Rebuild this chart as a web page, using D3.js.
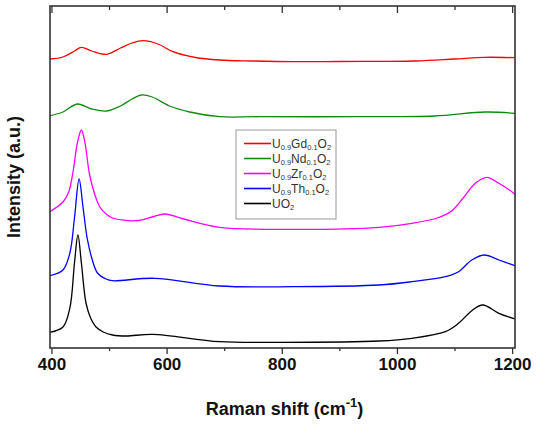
<!DOCTYPE html>
<html><head><meta charset="utf-8">
<script src="https://cdn.jsdelivr.net/npm/d3@7"></script>
<style>html,body{margin:0;padding:0;background:#fff;}svg{display:block;font-family:"Liberation Sans",Arial,sans-serif;}</style>
</head><body>
<svg id="chart" width="544" height="428"></svg>
<script>
// Raman shift (cm-1), intensity (a.u., stacked with offsets)
const gdShift = [397,420,440,452,470,496,520,540,559,585,611,650,692,750,820,900,1032,1100,1153,1205];
const gdInt   = [289,291,297,300.7,297,293.7,300,305,307.3,304,296.3,290.5,288,287,286.3,286.5,287,289,290.7,290.3];

const ndShift = [397,420,445,470,496,520,540,556,575,605,640,692,760,930,1065,1153,1205];
const ndInt   = [232.3,236,244,239,237,242,249,253,251,242,236,231.3,231.3,231.3,232,236,234.7];

const zrShift = [397,420,430,438,445,452,458,466,475,484,495,506,547,575,597,630,692,820,969,1026,1070,1095,1115,1136,1156,1177,1205];
const zrInt   = [136.3,146,156,178,205,218,206,174,154,141,134,130,127.3,131,134,129,120.7,118.7,120.7,124.7,130,137,150,164.7,170.7,164.7,153.7];

const thShift = [397,420,432,440,448,455,462,470,480,495,506,579,692,820,969,1026,1084,1107,1130,1152,1177,1205];
const thInt   = [72.3,78,95,130,169,140,110,90,75,69,67.3,69.7,62,61.3,63,66.3,71.3,76.3,88,93,88,82.3];

const uoShift = [397,420,432,440,446,452,460,468,477,490,506,530,576,692,800,969,1026,1084,1107,1130,1149,1177,1205];
const uoInt   = [15.7,21,40,85,113,85,45,30,21.3,16,13,12,13.7,6.3,5.7,7,9.7,16.3,24.7,37.3,43,34.7,29];

const seriesNames = [["U","0.9","Gd","0.1","O","2"],["U","0.9","Nd","0.1","O","2"],["U","0.9","Zr","0.1","O","2"],["U","0.9","Th","0.1","O","2"],["UO","2"]];
const seriesColors = ["#ff0000","#108a10","#ff00ff","#0000ff","#000000"];
const xTicks = [400,600,800,1000,1200];
const xMinorTicks = [500,700,900,1100];

const svg = d3.select("#chart");
const L=50, R=515, T=6, B=348;
const x = d3.scaleLinear().domain([397.5,1205]).range([L,R]);
const y = d3.scaleLinear().domain([0,342]).range([B,T]);

const series = [
  {s:gdShift,v:gdInt},{s:ndShift,v:ndInt},{s:zrShift,v:zrInt},{s:thShift,v:thInt},{s:uoShift,v:uoInt}
];
const line = d3.line().x(d=>x(d[0])).y(d=>y(d[1])).curve(d3.curveCatmullRom.alpha(0.5));
const g = svg.append("g");
g.append("defs").append("clipPath").attr("id","clip").append("rect").attr("x",L).attr("y",T).attr("width",R-L).attr("height",B-T);
series.forEach((d,i)=>{
  g.append("path").attr("clip-path","url(#clip)")
   .datum(d.s.map((s,j)=>[s,d.v[j]]))
   .attr("d",line).attr("fill","none").attr("stroke",seriesColors[i]).attr("stroke-width",1.3);
});

// Bottom axis
const xAxis = d3.axisBottom(x).tickValues(xTicks).tickSize(6).tickPadding(4).tickFormat(d3.format("d"));
const ax = svg.append("g").attr("transform",`translate(0,${B})`).call(xAxis);
ax.select(".domain").remove();
ax.selectAll(".tick line").attr("stroke","#333").attr("stroke-width",1.3);
ax.selectAll(".tick text").attr("fill","#111").attr("font-size",17).attr("font-weight","bold").attr("font-family","'Liberation Sans',Arial,sans-serif");
const axm = svg.append("g").attr("transform",`translate(0,${B})`).call(d3.axisBottom(x).tickValues(xMinorTicks).tickSize(3).tickFormat(""));
axm.select(".domain").remove();
axm.selectAll(".tick line").attr("stroke","#333").attr("stroke-width",1.3);
// Top axis (inward)
const at = svg.append("g").attr("transform",`translate(0,${T})`).call(d3.axisBottom(x).tickValues(xTicks).tickSize(7).tickFormat(""));
at.select(".domain").remove();
at.selectAll(".tick line").attr("stroke","#333").attr("stroke-width",1.3);
const atm = svg.append("g").attr("transform",`translate(0,${T})`).call(d3.axisBottom(x).tickValues(xMinorTicks).tickSize(4).tickFormat(""));
atm.select(".domain").remove();
atm.selectAll(".tick line").attr("stroke","#333").attr("stroke-width",1.3);

// Frame
svg.append("rect").attr("x",L).attr("y",T).attr("width",R-L).attr("height",B-T)
  .attr("fill","none").attr("stroke","#333").attr("stroke-width",1.6);

// Axis titles
const xt = svg.append("text").attr("x",(L+R)/2+2).attr("y",415).attr("text-anchor","middle")
  .attr("font-size",18).attr("font-weight","bold").attr("fill","#111");
xt.append("tspan").text("Raman shift (cm");
xt.append("tspan").attr("dy",-8).attr("font-size",13).text("-1");
xt.append("tspan").attr("dy",8).text(")");
svg.append("text").attr("transform",`translate(20,${(T+B)/2}) rotate(-90)`).attr("text-anchor","middle")
  .attr("font-size",18).attr("font-weight","bold").attr("fill","#111").text("Intensity (a.u.)");

// Legend
const lg = svg.append("g");
lg.append("rect").attr("x",236).attr("y",130).attr("width",100).attr("height",89)
  .attr("fill","#fff").attr("stroke","#999").attr("stroke-width",1);
seriesNames.forEach((parts,i)=>{
  const yy = 143.5 + i*15;
  lg.append("line").attr("x1",244).attr("x2",271).attr("y1",yy).attr("y2",yy).attr("stroke",seriesColors[i]).attr("stroke-width",1.6);
  const t = lg.append("text").attr("x",272).attr("y",yy+4.2).attr("font-size",12).attr("fill","#333");
  parts.forEach((p,k)=>{
    const sub = k%2===1;
    const ts = t.append("tspan").text(p);
    if(sub){ ts.attr("font-size",7.5).attr("dy",2.5); }
    else if(k>0){ ts.attr("dy",-2.5); }
  });
});
</script>
</body></html>
